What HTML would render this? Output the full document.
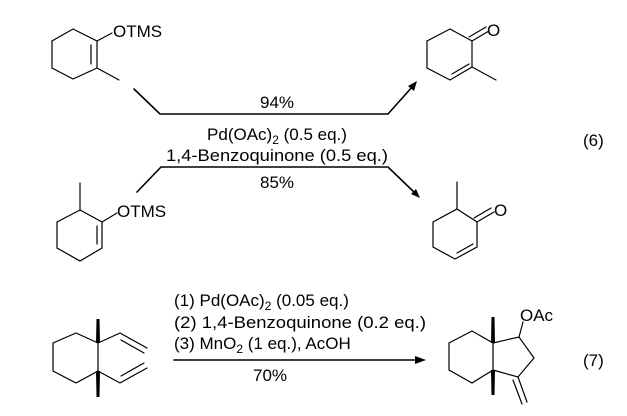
<!DOCTYPE html>
<html><head><meta charset="utf-8"><style>html,body{margin:0;padding:0;background:#fff}svg{display:block}text{font-family:"Liberation Sans",Arial,sans-serif;font-size:17px;fill:#000}</style></head>
<body>
<svg width="627" height="416" viewBox="0 0 627 416" xmlns="http://www.w3.org/2000/svg">
<g stroke="#000" stroke-width="1.2" fill="none" stroke-linecap="round">
<polygon points="73,29 97,41 97,68 73,79 52,68 52,41"/>
<line x1="91" y1="45" x2="91" y2="64"/>
<line x1="97" y1="41" x2="112" y2="33"/>
<line x1="97" y1="68" x2="119" y2="80"/>
<polygon points="80,210 102,222 102,248 80,261 57,248 57,222"/>
<line x1="97" y1="226" x2="97" y2="244"/>
<line x1="80" y1="210" x2="80" y2="183"/>
<line x1="102" y1="222" x2="117" y2="213"/>
<polyline points="134,89 160,114 388,114 413,86" stroke-width="1.6"/>
<polyline points="137,192 161,167 388,167 415,193" stroke-width="1.6"/>
<polygon points="450,29 472,41 472,67 450,80 427,68 427,41"/>
<line x1="452" y1="74" x2="469" y2="64"/>
<line x1="472" y1="41" x2="489" y2="31"/>
<line x1="469" y1="37" x2="486" y2="27"/>
<line x1="472" y1="67" x2="496" y2="80"/>
<polygon points="457,209 477,222 477,247 455,259 433,247 433,222"/>
<line x1="457" y1="253" x2="473" y2="244"/>
<line x1="457" y1="209" x2="457" y2="182"/>
<line x1="477" y1="222" x2="494" y2="212"/>
<line x1="474" y1="218" x2="491" y2="208"/>
<polygon points="76,333 98,343 98,371 76,383 53,371 53,343"/>
<polyline points="98,343 120,333 147,348"/>
<line x1="121" y1="340" x2="144" y2="353"/>
<polyline points="98,371 120,383 147,368"/>
<line x1="121" y1="376" x2="144" y2="363"/>
<line x1="174" y1="360" x2="416" y2="360" stroke-width="1.6"/>
<polygon points="472,331 493,343 493,370 472,383 449,370 449,343"/>
<polyline points="493,343 519,337 534,358 518,377 493,370"/>
<line x1="519" y1="337" x2="523" y2="322"/>
<line x1="518" y1="377" x2="527" y2="402"/>
<line x1="513" y1="380" x2="522" y2="404"/>
</g>
<g fill="#000">
<polygon points="417,81 408,86 414,91"/>
<polygon points="420,198 411,194 416,189"/>
<polygon points="426,360 415,356 415,364"/>
<polygon points="96,343 100,343 99.5,319 96.5,319"/>
<polygon points="96,371 100,371 99.5,397 96.5,397"/>
<polygon points="491,343 495,343 494.5,317 491.5,317"/>
<polygon points="491,370 495,370 494.5,395 491.5,395"/>
</g>
<text x="113" y="37">OTMS</text>
<text x="117" y="217">OTMS</text>
<text x="487" y="36">O</text>
<text x="494" y="216">O</text>
<text x="520" y="321">OAc</text>
<text x="277" y="108" text-anchor="middle">94%</text>
<text x="277" y="140" text-anchor="middle">Pd(OAc)<tspan font-size="12" dy="4">2</tspan><tspan dy="-4"> (0.5 eq.)</tspan></text>
<text x="166" y="161" textLength="222" lengthAdjust="spacingAndGlyphs">1,4-Benzoquinone (0.5 eq.)</text>
<text x="277" y="188" text-anchor="middle">85%</text>
<text x="583" y="146">(6)</text>
<text x="174" y="306">(1) Pd(OAc)<tspan font-size="12" dy="4">2</tspan><tspan dy="-4"> (0.05 eq.)</tspan></text>
<text x="174" y="328" textLength="252" lengthAdjust="spacingAndGlyphs">(2) 1,4-Benzoquinone (0.2 eq.)</text>
<text x="174" y="349">(3) MnO<tspan font-size="12" dy="4">2</tspan><tspan dy="-4"> (1 eq.), AcOH</tspan></text>
<text x="270" y="381" text-anchor="middle">70%</text>
<text x="583" y="366">(7)</text>
</svg>
</body></html>
